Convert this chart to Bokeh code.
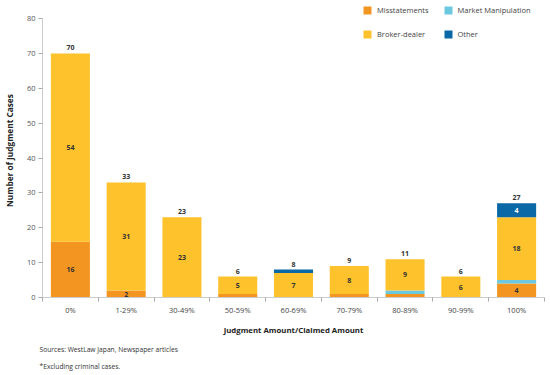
from bokeh.plotting import figure
from bokeh.models import ColumnDataSource, FixedTicker, Legend, LegendItem, Range1d, Title
from bokeh.core.properties import value
from bokeh.embed import file_html
from bokeh.resources import INLINE

categories = ["0%", "1-29%", "30-49%", "50-59%", "60-69%", "70-79%", "80-89%", "90-99%", "100%"]
misstatements = [16, 2, 0, 1, 0, 1, 1, 0, 4]
market_manipulation = [0, 0, 0, 0, 0, 0, 1, 0, 1]
broker_dealer = [54, 31, 23, 5, 7, 8, 9, 6, 18]
other = [0, 0, 0, 0, 1, 0, 0, 0, 4]
series_names = ["Misstatements", "Market Manipulation", "Broker-dealer", "Other"]
series_keys = ["mis", "mm", "bd", "oth"]
colors = ["#F39621", "#6BC8DE", "#FEC22D", "#0A68A6"]
y_ticks = [0, 10, 20, 30, 40, 50, 60, 70, 80]
x_title = "Judgment Amount/Claimed Amount"
y_title = "Number of Judgment Cases"
notes = ["Sources: WestLaw Japan, Newspaper articles", "*Excluding criminal cases."]

FONT = "Open Sans"
xs = list(range(len(categories)))
series = [misstatements, market_manipulation, broker_dealer, other]
src = ColumnDataSource(dict(x=xs, mis=misstatements, mm=market_manipulation, bd=broker_dealer, oth=other))

# frame spans canvas y 3..297; value 80 sits at y 18
y_top = 80 + 15 / (279 / 80)

p = figure(width=550, height=375, output_backend="svg", toolbar_location=None,
           x_range=Range1d(-0.5, len(categories) - 0.5), y_range=Range1d(0, y_top),
           min_border_left=40, min_border_right=6, min_border_top=3, min_border_bottom=78)
p.outline_line_color = None
p.xgrid.visible = False
p.ygrid.visible = False

rs = p.vbar_stack(series_keys, x="x", width=0.7, color=colors, source=src, line_color=None)

# segment labels
lx, ly, lt, lc = [], [], [], []
for i in xs:
    bottom = 0
    for k, s in enumerate(series):
        v = s[i]
        if v >= 2:
            lx.append(i); ly.append(bottom + v / 2); lt.append(str(v))
            lc.append("#FFFFFF" if series_names[k] == "Other" else "#333333")
        bottom += v
p.text(x=lx, y=ly, text=lt, text_color=lc, text_align="center", text_baseline="middle",
       text_font=value(FONT), text_font_size="7px", text_font_style="bold")

totals = [sum(s[i] for s in series) for i in xs]
p.text(x=xs, y=totals, text=[str(t) for t in totals], text_align="center", text_baseline="bottom",
       y_offset=-3, text_font=value(FONT), text_font_size="7px", text_font_style="bold",
       text_color="#333333")

# axes
xa = p.xaxis[0]
xa.ticker = FixedTicker(ticks=xs, minor_ticks=[i - 0.5 for i in range(len(categories) + 1)])
xa.major_label_overrides = {i: c for i, c in zip(xs, categories)}
xa.major_tick_line_color = None
xa.major_tick_out = 4
xa.minor_tick_line_color = "#AAAAAA"
xa.minor_tick_out = 4
xa.minor_tick_in = 0
xa.axis_line_color = "#CCCCCC"
xa.major_label_text_font = FONT
xa.major_label_text_font_size = "7.5px"
xa.major_label_text_color = "#444444"
xa.major_label_standoff = 3
xa.axis_label = x_title
xa.axis_label_text_font = FONT
xa.axis_label_text_font_size = "7.8px"
xa.axis_label_text_font_style = "bold"
xa.axis_label_text_color = "#222222"
xa.axis_label_standoff = 7

ya = p.yaxis[0]
ya.ticker = FixedTicker(ticks=y_ticks)
ya.bounds = (0, 80)
ya.minor_tick_line_color = None
ya.major_tick_out = 4
ya.major_tick_in = 0
ya.major_tick_line_color = "#AAAAAA"
ya.axis_line_color = "#CCCCCC"
ya.major_label_text_font = FONT
ya.major_label_text_font_size = "7.5px"
ya.major_label_text_color = "#555555"
ya.major_label_standoff = 3
ya.axis_label = y_title
ya.axis_label_text_font = FONT
ya.axis_label_text_font_size = "8.3px"
ya.axis_label_text_font_style = "bold"
ya.axis_label_text_color = "#222222"
ya.axis_label_standoff = 9

legend = Legend(items=[LegendItem(label=n, renderers=[r]) for n, r in zip(series_names, rs)],
                location=(320, 258), ncols=2, orientation="horizontal",
                glyph_width=10, glyph_height=10, label_height=10, label_standoff=5,
                spacing=14, padding=0, margin=0,
                label_text_font=FONT, label_text_font_size="7.5px", label_text_color="#444444",
                border_line_color=None, background_fill_alpha=0)
p.add_layout(legend)

for k, t in enumerate(notes):
    p.add_layout(Title(text=t, align="left", offset=-3, standoff=(10 if k == 0 else 2),
                       text_font=FONT, text_font_size="6.7px", text_font_style="normal",
                       text_color="#333333"), "below")

open("out.html", "w").write(file_html(p, INLINE))
